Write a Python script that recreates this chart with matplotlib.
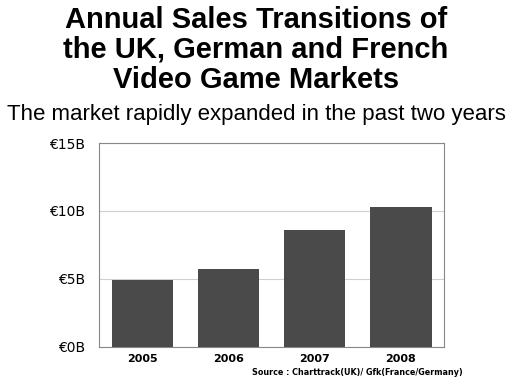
import matplotlib.pyplot as plt

years = ['2005', '2006', '2007', '2008']
sales = [4.9, 5.7, 8.6, 10.3]  # billions of euros
yticks = [0, 5, 10, 15]
ytick_labels = ['€0B', '€5B', '€10B', '€15B']

fig = plt.figure(figsize=(5.12, 3.84), dpi=100)
ax = fig.add_axes([0.1934, 0.0964, 0.6738, 0.5312])

ax.bar(range(len(years)), sales, width=0.71, color='#4a4a4a', zorder=3)
ax.set_xlim(-0.5, 3.5)
ax.set_ylim(0, 15)
ax.set_yticks(yticks)
ax.set_yticklabels(ytick_labels, fontsize=10)
ax.set_xticks(range(len(years)))
ax.set_xticklabels(years, fontsize=8, fontweight='bold')
ax.tick_params(length=0, pad=5)
ax.tick_params(axis='y', pad=10)
ax.grid(axis='y', color='#d0d0d0', lw=0.8, zorder=0)
for s in ax.spines.values():
    s.set_color('#888888')
    s.set_linewidth(0.8)

fig.text(0.5, 0.985, 'Annual Sales Transitions of\nthe UK, German and French\nVideo Game Markets',
         ha='center', va='top', fontsize=21, fontweight='bold',
         family='Liberation Sans', linespacing=1.1)
fig.text(0.5, 0.703, 'The market rapidly expanded in the past two years',
         ha='center', va='center', fontsize=16, family='Liberation Sans')
fig.text(0.903, 0.03, 'Source : Charttrack(UK)/ Gfk(France/Germany)',
         ha='right', va='center', fontsize=5.8, fontweight='bold')

fig.savefig('out.png', dpi=100)
